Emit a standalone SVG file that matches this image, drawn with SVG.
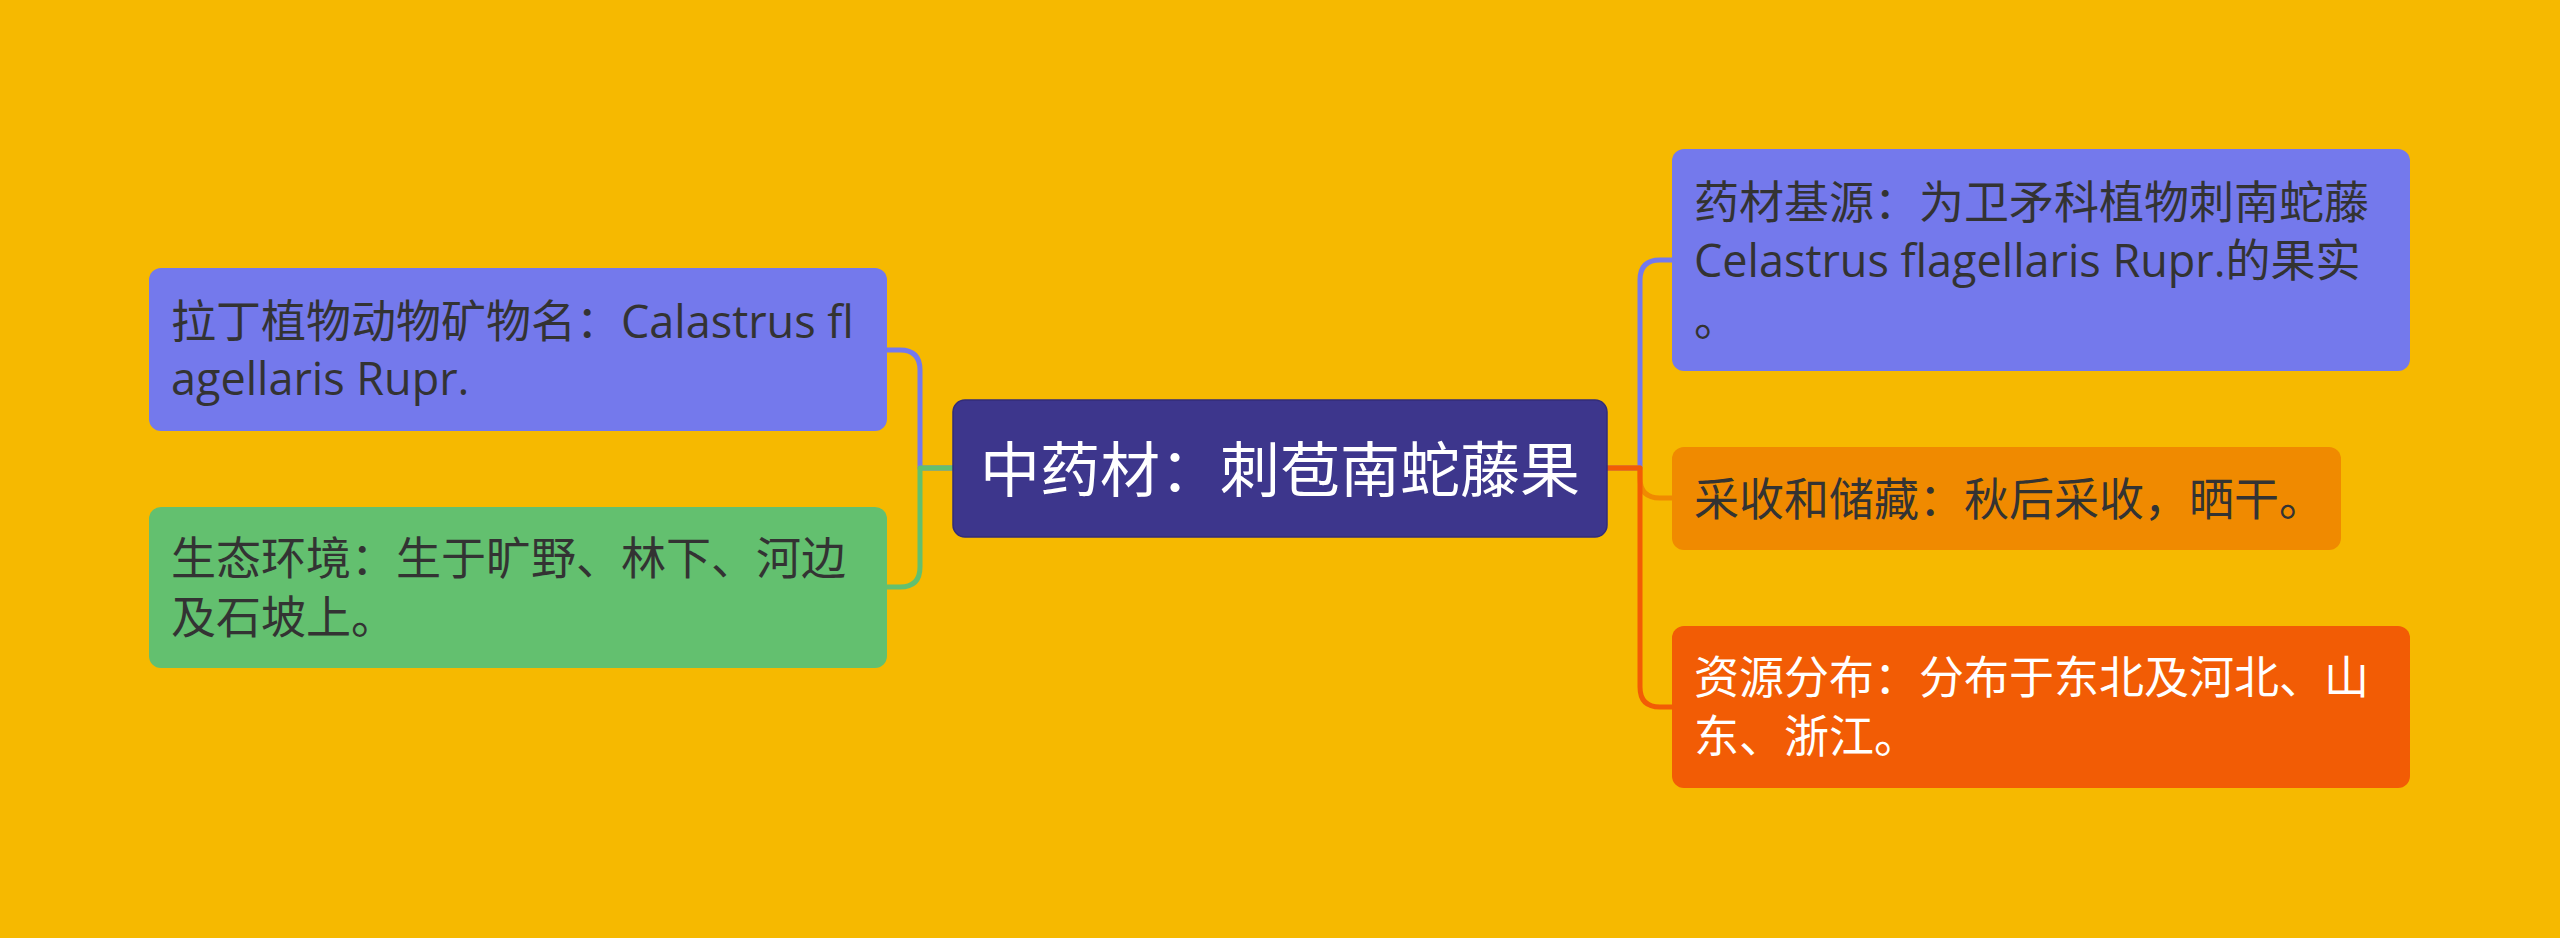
<svg xmlns="http://www.w3.org/2000/svg" width="2560" height="938" viewBox="0 0 2560 938">
<style>
.t{font-family:'Open Sans','Noto Sans CJK SC',sans-serif;font-size:45px;fill:#333333}
.w{fill:#ffffff}
.c{font-family:'Open Sans','Noto Sans CJK SC',sans-serif;font-size:60px;fill:#ffffff}
.ln{fill:none;stroke-width:5;stroke-linecap:round;stroke-linejoin:round}
</style>
<rect x="0" y="0" width="2560" height="938" fill="#F6B900"/>
<g id="connectors">
<path class="ln" stroke="#7479EC" d="M953 468 H920 V370 Q920 350 900 350 H887"/>
<path class="ln" stroke="#63C06F" d="M953 468 H920 V567 Q920 587 900 587 H887"/>
<path class="ln" stroke="#7479EC" d="M1607 468 H1640 V280 Q1640 260 1660 260 H1672"/>
<path class="ln" stroke="#F08A00" d="M1607 468 H1640 V478 Q1640 498 1660 498 H1672"/>
<path class="ln" stroke="#F25C05" d="M1607 468 H1640 V687 Q1640 707 1660 707 H1672"/>
</g>
<g id="center">
<rect x="953" y="400" width="654" height="137" rx="12" fill="#3D368C" stroke="#332d78" stroke-width="1.5"/>
<text class="c" x="1280" y="492" text-anchor="middle">中药材：刺苞南蛇藤果</text>
</g>
<g id="left1">
<rect x="149" y="268" width="738" height="163" rx="12" fill="#7479EC"/>
<text class="t" x="171" y="338">拉丁植物动物矿物名：Calastrus fl</text>
<text class="t" x="171" y="395">agellaris Rupr.</text>
</g>
<g id="left2">
<rect x="149" y="507" width="738" height="161" rx="12" fill="#63C06F"/>
<text class="t" x="171" y="575">生态环境：生于旷野、林下、河边</text>
<text class="t" x="171" y="634">及石坡上。</text>
</g>
<g id="right1">
<rect x="1672" y="149" width="738" height="222" rx="12" fill="#7479EC"/>
<text class="t" x="1694" y="219">药材基源：为卫矛科植物刺南蛇藤</text>
<text class="t" x="1694" y="277">Celastrus flagellaris Rupr.的果实</text>
<text class="t" x="1694" y="336">。</text>
</g>
<g id="right2">
<rect x="1672" y="447" width="669" height="103" rx="12" fill="#F08A00"/>
<text class="t" x="1694" y="516">采收和储藏：秋后采收，晒干。</text>
</g>
<g id="right3">
<rect x="1672" y="626" width="738" height="162" rx="12" fill="#F25C05"/>
<text class="t w" x="1694" y="694">资源分布：分布于东北及河北、山</text>
<text class="t w" x="1694" y="753">东、浙江。</text>
</g>
</svg>
